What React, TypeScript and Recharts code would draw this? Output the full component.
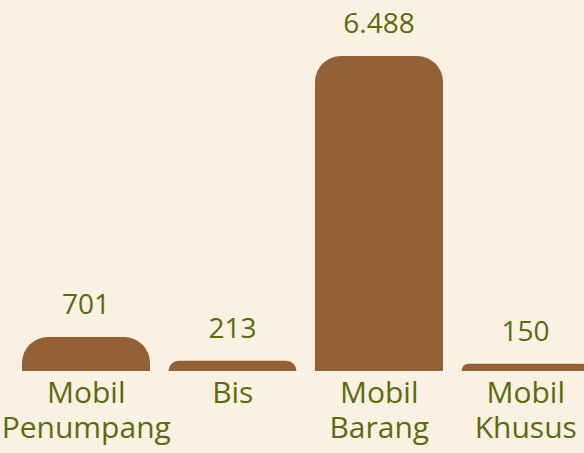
import { BarChart, Bar, XAxis, YAxis, LabelList } from 'recharts'

const categories = ['Mobil Penumpang', 'Bis', 'Mobil Barang', 'Mobil Khusus']
const tickLines = [['Mobil', 'Penumpang'], ['Bis'], ['Mobil', 'Barang'], ['Mobil', 'Khusus']]
const values = [701, 213, 6488, 150]
const valueLabels = ['701', '213', '6.488', '150']

const data = categories.map((name, i) => ({
  name,
  value: values[i],
  label: valueLabels[i]
}))

const BG = '#faf1e3'
const BAR = '#926236'
const TEXT = '#5e6a10'
const FONT = '"Open Sans", sans-serif'

// top corners rounded, radius shrinks on short bars
function RoundedTop(props: any) {
  const { x, y, width, height, fill } = props
  if (!height || height <= 0) return null
  const r = Math.min(26, height, width / 2)
  const b = y + height
  const d = `M${x},${b} L${x},${y + r} A${r},${r} 0 0 1 ${x + r},${y} L${x + width - r},${y} A${r},${r} 0 0 1 ${x + width},${y + r} L${x + width},${b} Z`
  return <path d={d} fill={fill} />
}

function CategoryTick(props: any) {
  const { x, y, payload } = props
  const lines = tickLines[payload.index] ?? [payload.value]
  return (
    <g transform={`translate(${x},${y})`}>
      {lines.map((line: string, i: number) => (
        <text
          key={i}
          x={0}
          y={24 + i * 35}
          textAnchor="middle"
          fill={TEXT}
          fontSize={30}
          fontWeight={500}
          fontFamily={FONT}
        >
          {line}
        </text>
      ))}
    </g>
  )
}

function ValueLabel(props: any) {
  const { x, y, width, index } = props
  return (
    <text
      x={x + width / 2}
      y={y - 23}
      textAnchor="middle"
      fill={TEXT}
      fontSize={28}
      fontWeight={500}
      fontFamily={FONT}
    >
      {valueLabels[index]}
    </text>
  )
}

export default function App() {
  return (
    <div
      style={{
        position: 'fixed',
        left: 0,
        top: 0,
        width: 584,
        height: 453,
        overflow: 'hidden',
        background: BG
      }}
    >
      <BarChart
        width={600}
        height={453}
        data={data}
        margin={{ top: 56, right: 1, bottom: 0, left: 13 }}
        barSize={128}
      >
        <XAxis
          dataKey="name"
          axisLine={false}
          tickLine={false}
          height={82}
          interval={0}
          tick={<CategoryTick />}
        />
        <YAxis hide domain={[0, 'dataMax']} />
        <Bar dataKey="value" fill={BAR} shape={<RoundedTop />} isAnimationActive={false}>
          <LabelList dataKey="label" content={<ValueLabel />} />
        </Bar>
      </BarChart>
    </div>
  )
}
